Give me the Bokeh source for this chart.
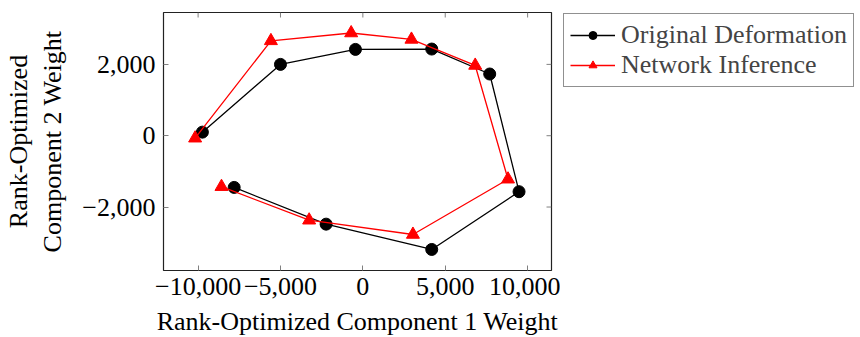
import math
from bokeh.plotting import figure
from bokeh.layouts import row
from bokeh.models import LinearAxis, FixedTicker, Legend, LegendItem, Range1d
from bokeh.embed import file_html
from bokeh.resources import INLINE

# data
orig_x = [-9740, -5000, -450, 4180, 7700, 9480, 4180, -2230, -7810]
orig_y = [100, 2000, 2420, 2430, 1730, -1570, -3190, -2480, -1450]
net_x = [-10180, -5580, -710, 2950, 6820, 8810, 3040, -3260, -8580]
net_y = [-70, 2660, 2880, 2700, 1970, -1220, -2770, -2370, -1430]

x_ticks = [-10000, -5000, 0, 5000, 10000]
x_tick_labels = ["\u221210,000", "\u22125,000", "0", "5,000", "10,000"]
y_ticks = [-2000, 0, 2000]
y_tick_labels = ["\u22122,000", "0", "2,000"]

series_labels = ["Original Deformation", "Network Inference"]
x_title = "Rank-Optimized Component 1 Weight"
y_title = "Rank-Optimized\nComponent 2 Weight"

FONT = "Liberation Serif"
FS = "26px"
H = 347
X0, X1 = -12100, 11450
Y0, Y1 = -3780, 3455

p = figure(width=560, height=H, output_backend="svg", toolbar_location=None,
           x_range=Range1d(X0, X1), y_range=Range1d(Y0, Y1),
           min_border_left=163, min_border_right=9, min_border_top=12,
           min_border_bottom=H - 270, x_axis_location=None, y_axis_location=None)
p.grid.visible = False
p.outline_line_color = "#222222"
p.outline_line_width = 1.2
p.border_fill_color = "white"

def style_axis(ax):
    ax.axis_line_color = None
    ax.major_tick_in = 5
    ax.major_tick_out = 0
    ax.minor_tick_line_color = None
    ax.major_tick_line_color = "#808080"
    ax.major_tick_line_width = 1
    ax.major_label_text_font = FONT
    ax.major_label_text_font_size = FS
    ax.major_label_text_color = "black"
    ax.axis_label_text_font = FONT
    ax.axis_label_text_font_size = FS
    ax.axis_label_text_font_style = "normal"
    ax.axis_label_text_color = "black"

xb = LinearAxis(ticker=FixedTicker(ticks=x_ticks),
                major_label_overrides=dict(zip(x_ticks, x_tick_labels)),
                axis_label=x_title)
style_axis(xb)
xb.major_label_standoff = 7
xb.axis_label_standoff = 9
p.add_layout(xb, "below")

yl = LinearAxis(ticker=FixedTicker(ticks=y_ticks),
                major_label_overrides=dict(zip(y_ticks, y_tick_labels)),
                axis_label=y_title)
style_axis(yl)
yl.major_label_standoff = 8
yl.axis_label_standoff = 12
p.add_layout(yl, "left")

# inward ticks on the top and right frame edges (mirror of the axis ticks)
p.ray(x=x_ticks, y=[Y1] * len(x_ticks), length=5, length_units="screen",
      angle=-math.pi / 2, line_color="#808080", line_width=1)
p.ray(x=[X1] * len(y_ticks), y=y_ticks, length=5, length_units="screen",
      angle=math.pi, line_color="#808080", line_width=1)

p.line(orig_x, orig_y, line_color="black", line_width=1.3)
p.scatter(orig_x, orig_y, marker="circle", size=12, fill_color="black", line_color="black")
p.line(net_x, net_y, line_color="red", line_width=1.3)
p.scatter(net_x, net_y, marker="triangle", size=13, fill_color="red", line_color="red")

# legend panel (same series, drawn outside its visible range so only the legend shows)
q = figure(width=300, height=H, output_backend="svg", toolbar_location=None,
           x_range=Range1d(0, 1), y_range=Range1d(0, 1),
           min_border=0, min_border_left=2, min_border_top=11,
           x_axis_location=None, y_axis_location=None)
q.grid.visible = False
q.outline_line_color = None
q.border_fill_color = "white"
ql1 = q.line(orig_x, orig_y, line_color="black", line_width=1.3)
qs1 = q.scatter(orig_x, orig_y, marker="circle", size=12, fill_color="black", line_color="black")
ql2 = q.line(net_x, net_y, line_color="red", line_width=1.3)
qs2 = q.scatter(net_x, net_y, marker="triangle", size=13, fill_color="red", line_color="red")

legend = Legend(items=[LegendItem(label=series_labels[0], renderers=[ql1, qs1]),
                       LegendItem(label=series_labels[1], renderers=[ql2, qs2])],
                location="top_left")
legend.border_line_color = "#222222"
legend.border_line_width = 1.2
legend.background_fill_alpha = 1
legend.label_text_font = FONT
legend.label_text_font_size = FS
legend.glyph_width = 45
legend.glyph_height = 20
legend.label_standoff = 6
legend.padding = 6
legend.spacing = 0
legend.margin = 1
q.add_layout(legend, "center")

layout = row(p, q)
open("out.html", "w").write(file_html(layout, INLINE))
